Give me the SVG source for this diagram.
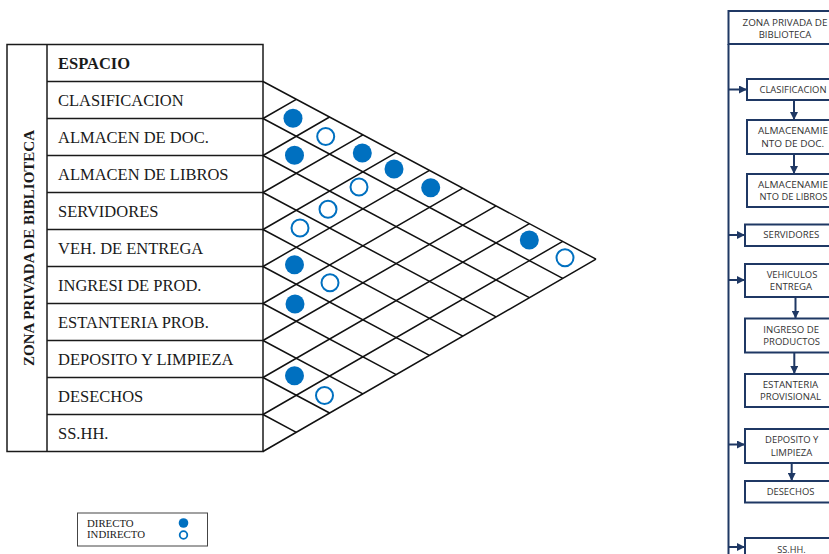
<svg xmlns="http://www.w3.org/2000/svg" width="829" height="554" viewBox="0 0 829 554">
<style>
.tl{fill:none;stroke:#1a1a1a;stroke-width:1.5}
.tt{font-family:"Liberation Serif","Times New Roman",serif;font-size:16.5px;fill:#1a1a1a}
.gl{fill:none;stroke:#111;stroke-width:1.5}
.df{fill:#0070C0}
.di{fill:none;stroke:#0070C0;stroke-width:2}
.fb{fill:#fff;stroke:#1F3864;stroke-width:2}
.ft{font-family:"Open Sans","Liberation Sans",sans-serif;font-size:8.5px;fill:#333;text-anchor:middle}
.fc{fill:none;stroke:#1F3864;stroke-width:2}
.lt{font-family:"Liberation Serif","Times New Roman",serif;font-size:10.8px;fill:#1a1a1a}
</style>
<defs>
<marker id="ah" markerUnits="userSpaceOnUse" markerWidth="8" markerHeight="8" refX="8" refY="4" orient="auto">
<path d="M0,0 L8,4 L0,8 z" fill="#1F3864"/>
</marker>
</defs>
<rect width="829" height="554" fill="#fff"/>

<g id="table">
<rect class="tl" x="7" y="44.5" width="256" height="407"/>
<line class="tl" x1="47" y1="44.5" x2="47" y2="451.5"/>
<path class="tl" d="M47,81.5H263M47,118.5H263M47,155.5H263M47,192.5H263M47,229.5H263M47,266.5H263M47,303.5H263M47,340.5H263M47,377.5H263M47,414.5H263"/>
<text x="34" y="248" transform="rotate(-90 34 248)" class="tt" style="font-weight:bold;font-size:15px" text-anchor="middle">ZONA PRIVADA DE BIBLIOTECA</text>
<text class="tt" x="58" y="68.5" font-weight="bold">ESPACIO</text>
<text class="tt" x="58" y="105.5">CLASIFICACION</text>
<text class="tt" x="58" y="142.5">ALMACEN DE DOC.</text>
<text class="tt" x="58" y="179.5">ALMACEN DE LIBROS</text>
<text class="tt" x="58" y="216.5">SERVIDORES</text>
<text class="tt" x="58" y="253.5">VEH. DE ENTREGA</text>
<text class="tt" x="58" y="290.5">INGRESI DE PROD.</text>
<text class="tt" x="58" y="327.5">ESTANTERIA PROB.</text>
<text class="tt" x="58" y="364.5">DEPOSITO Y LIMPIEZA</text>
<text class="tt" x="58" y="401.5">DESECHOS</text>
<text class="tt" x="58" y="438.5">SS.HH.</text>
</g>

<g id="matrix">
<path class="gl" d="M263,81.5L596,259.2M263,118.5L562.7,278.4M263,155.5L529.4,297.7M263,192.5L496.1,316.9M263,229.5L462.8,336.1M263,266.5L429.5,355.4M263,303.5L396.2,374.6M263,340.5L362.9,393.8M263,377.5L329.6,413M263,414.5L296.3,432.3"/>
<path class="gl" d="M263,118.5L296.3,99.3M263,155.5L329.6,117M263,192.5L362.9,134.8M263,229.5L396.2,152.6M263,266.5L429.5,170.4M263,303.5L462.8,188.1M263,340.5L496.1,205.9M263,377.5L529.4,223.7M263,414.5L562.7,241.4M263,451.5L596,259.2"/>
</g>

<g id="dots">
<circle class="df" cx="293" cy="118.3" r="9.5"/>
<circle class="di" cx="325.7" cy="136.5" r="8.5"/>
<circle class="df" cx="294.5" cy="155.3" r="9.5"/>
<circle class="df" cx="362.3" cy="153" r="9.5"/>
<circle class="df" cx="394" cy="169" r="9.5"/>
<circle class="di" cx="359" cy="187" r="8.5"/>
<circle class="df" cx="430.7" cy="187.7" r="9.5"/>
<circle class="di" cx="328" cy="209.3" r="8.5"/>
<circle class="di" cx="300" cy="228" r="8.5"/>
<circle class="df" cx="294.5" cy="264.8" r="9.5"/>
<circle class="df" cx="529.3" cy="240" r="9.5"/>
<circle class="di" cx="565" cy="257.7" r="8.5"/>
<circle class="di" cx="330" cy="282.7" r="8.5"/>
<circle class="df" cx="295" cy="304" r="9.5"/>
<circle class="df" cx="294.5" cy="375.7" r="9.5"/>
<circle class="di" cx="324.5" cy="395.5" r="8.5"/>
</g>

<g id="connectors">
<line class="fc" x1="728.5" y1="44" x2="728.5" y2="554"/>
<line class="fc" x1="728.5" y1="89.5" x2="747" y2="89.5" marker-end="url(#ah)"/>
<line class="fc" x1="728.5" y1="235" x2="745" y2="235" marker-end="url(#ah)"/>
<line class="fc" x1="728.5" y1="280" x2="745" y2="280" marker-end="url(#ah)"/>
<line class="fc" x1="728.5" y1="444.5" x2="745" y2="444.5" marker-end="url(#ah)"/>
<line class="fc" x1="728.5" y1="547" x2="745" y2="547" marker-end="url(#ah)"/>
<line class="fc" x1="794" y1="100" x2="794" y2="120" marker-end="url(#ah)"/>
<line class="fc" x1="794" y1="154" x2="794" y2="174" marker-end="url(#ah)"/>
<line class="fc" x1="795.5" y1="297" x2="795.5" y2="318.5" marker-end="url(#ah)"/>
<line class="fc" x1="794.3" y1="352.5" x2="794.3" y2="374" marker-end="url(#ah)"/>
<line class="fc" x1="791.7" y1="463" x2="791.7" y2="481" marker-end="url(#ah)"/>
</g>

<g id="n-zona">
<rect class="fb" x="728.5" y="11" width="114" height="33"/>
<text class="ft" x="785" y="26.3" textLength="85" lengthAdjust="spacingAndGlyphs">ZONA PRIVADA DE</text>
<text class="ft" x="785" y="37.8" textLength="52.7" lengthAdjust="spacingAndGlyphs">BIBLIOTECA</text>
</g>
<g id="n-clasificacion">
<rect class="fb" x="747" y="79" width="92" height="21"/>
<text class="ft" x="793" y="92.8" textLength="67" lengthAdjust="spacingAndGlyphs">CLASIFICACION</text>
</g>
<g id="n-almdoc">
<rect class="fb" x="747" y="120" width="92" height="34"/>
<text class="ft" x="793" y="134.3" textLength="70" lengthAdjust="spacingAndGlyphs">ALMACENAMIE</text>
<text class="ft" x="792.7" y="147" textLength="63" lengthAdjust="spacingAndGlyphs">NTO DE DOC.</text>
</g>
<g id="n-almlib">
<rect class="fb" x="747" y="174" width="92" height="33"/>
<text class="ft" x="793" y="188.3" textLength="70" lengthAdjust="spacingAndGlyphs">ALMACENAMIE</text>
<text class="ft" x="793.5" y="200.2" textLength="68" lengthAdjust="spacingAndGlyphs">NTO DE LIBROS</text>
</g>
<g id="n-servidores">
<rect class="fb" x="745" y="224.5" width="92" height="21.5"/>
<text class="ft" x="791.3" y="238.3" textLength="56" lengthAdjust="spacingAndGlyphs">SERVIDORES</text>
</g>
<g id="n-vehiculos">
<rect class="fb" x="745" y="264" width="92" height="33"/>
<text class="ft" x="792" y="278.3" textLength="50.7" lengthAdjust="spacingAndGlyphs">VEHICULOS</text>
<text class="ft" x="791" y="290.2" textLength="42.3" lengthAdjust="spacingAndGlyphs">ENTREGA</text>
</g>
<g id="n-ingreso">
<rect class="fb" x="745" y="318.5" width="92" height="34"/>
<text class="ft" x="791.2" y="333.3" textLength="55.7" lengthAdjust="spacingAndGlyphs">INGRESO DE</text>
<text class="ft" x="791.7" y="345.2" textLength="56.7" lengthAdjust="spacingAndGlyphs">PRODUCTOS</text>
</g>
<g id="n-estanteria">
<rect class="fb" x="745" y="374" width="92" height="33"/>
<text class="ft" x="790.5" y="388.3" textLength="55.7" lengthAdjust="spacingAndGlyphs">ESTANTERIA</text>
<text class="ft" x="790.5" y="400.2" textLength="61" lengthAdjust="spacingAndGlyphs">PROVISIONAL</text>
</g>
<g id="n-deposito">
<rect class="fb" x="745" y="429" width="92" height="34"/>
<text class="ft" x="791.7" y="443.3" textLength="53.3" lengthAdjust="spacingAndGlyphs">DEPOSITO Y</text>
<text class="ft" x="791.5" y="455.5" textLength="41.6" lengthAdjust="spacingAndGlyphs">LIMPIEZA</text>
</g>
<g id="n-desechos">
<rect class="fb" x="745" y="481" width="92" height="21.5"/>
<text class="ft" x="790.5" y="494.8" textLength="47.7" lengthAdjust="spacingAndGlyphs">DESECHOS</text>
</g>
<g id="n-sshh">
<rect class="fb" x="745" y="538" width="92" height="30"/>
<text class="ft" x="791.5" y="552.5" textLength="28.3" lengthAdjust="spacingAndGlyphs">SS.HH.</text>
</g>

<g id="legend">
<rect x="77.5" y="513" width="130" height="33" fill="#fff" stroke="#444" stroke-width="1"/>
<text class="lt" x="87" y="527">DIRECTO</text>
<text class="lt" x="87" y="538">INDIRECTO</text>
<circle class="df" cx="183.5" cy="523" r="4.8"/>
<circle cx="183.5" cy="535" r="3.8" fill="none" stroke="#0070C0" stroke-width="1.8"/>
</g>
</svg>
